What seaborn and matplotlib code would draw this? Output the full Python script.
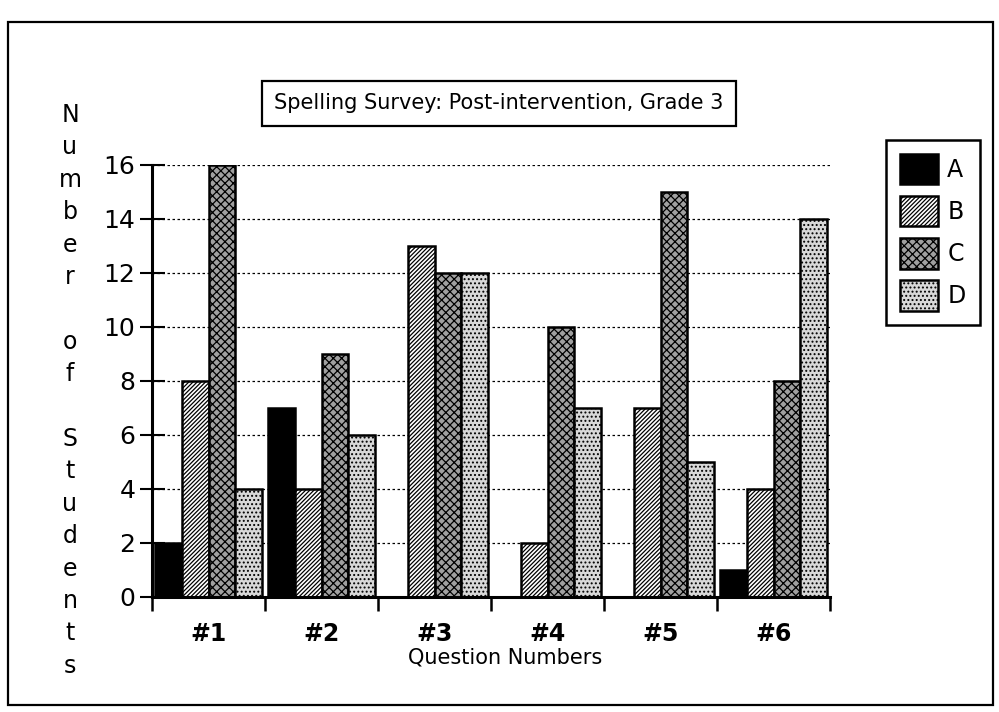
import matplotlib
matplotlib.use("Agg")
import matplotlib.pyplot as plt
from matplotlib.patches import Patch, Rectangle
import seaborn as sns
import pandas as pd

questions = ["#1", "#2", "#3", "#4", "#5", "#6"]
answers = ["A", "B", "C", "D"]
counts_a = [2, 7, 0, 0, 0, 1]
counts_b = [8, 4, 13, 2, 7, 4]
counts_c = [16, 9, 12, 10, 15, 8]
counts_d = [4, 6, 12, 7, 5, 14]
y_ticks = [0, 2, 4, 6, 8, 10, 12, 14, 16]

title = "Spelling Survey: Post-intervention, Grade 3"
y_label = "Number of Students"
x_label = "Question Numbers"

# styles per answer: face colour, hatch
face = {"A": "#000000", "B": "#ffffff", "C": "#a0a0a0", "D": "#d8d8d8"}
hatch = {"A": "", "B": "////////", "C": "xxxx", "D": "...."}

df = pd.DataFrame({
    "question": questions * 4,
    "answer": [a for a in answers for _ in questions],
    "count": counts_a + counts_b + counts_c + counts_d,
})

sns.set_style("white")
plt.rcParams["font.family"] = ["DejaVu Sans"]
plt.rcParams["hatch.linewidth"] = 0.9
plt.rcParams["text.color"] = "black"
plt.rcParams["xtick.color"] = "black"
plt.rcParams["ytick.color"] = "black"
plt.rcParams["xtick.labelcolor"] = "black"
plt.rcParams["ytick.labelcolor"] = "black"

fig = plt.figure(figsize=(9.99, 7.12), dpi=100)
W, H = 999, 712
ax = fig.add_axes([152 / W, 1 - 597 / H, (830 - 152) / W, (597 - 165) / H])

sns.barplot(data=df, x="question", y="count", hue="answer", order=questions,
            hue_order=answers, palette=face, width=0.95, gap=0,
            edgecolor="black", linewidth=1.8, ax=ax, legend=False)

for cont, a in zip(ax.containers, answers):
    for bar in cont:
        bar.set_hatch(hatch[a])
        bar.set_edgecolor("black")
        if bar.get_height() == 0:
            bar.set_visible(False)

ax.set_xlim(-0.5, len(questions) - 0.5)
ax.set_ylim(0, 16)
ax.set_yticks(y_ticks)
ax.set_yticklabels([str(t) for t in y_ticks])
ax.yaxis.grid(True, linestyle=(0, (2, 2)), color="black", linewidth=0.9)
ax.set_axisbelow(True)

# group separators as minor ticks, labels centered without ticks
ax.set_xticks([i - 0.5 for i in range(len(questions) + 1)], minor=True)
ax.tick_params(axis="x", which="minor", bottom=True, direction="out", length=10, width=1.8)
ax.tick_params(axis="x", which="major", bottom=True, length=0, pad=18, labelsize=17)
ax.tick_params(axis="y", left=True, direction="inout", length=18, width=1.5, pad=3, labelsize=18)
for lbl in ax.get_xticklabels():
    lbl.set_fontweight("bold")

for side in ["top", "right"]:
    ax.spines[side].set_visible(False)
for side in ["left", "bottom"]:
    ax.spines[side].set_color("black")
    ax.spines[side].set_linewidth(2.2)

ax.set_xlabel("")
ax.set_ylabel("")
fig.text(505 / W, 1 - 657 / H, x_label, ha="center", va="center", fontsize=15)

# vertical stacked y label
for i, ch in enumerate(y_label):
    if ch != " ":
        fig.text(70 / W, 1 - (115 + i * 32.4) / H, ch, ha="center", va="center", fontsize=17)

# title box
fig.text(499 / W, 1 - 103 / H, title, ha="center", va="center", fontsize=15,
         bbox=dict(boxstyle="square,pad=0.6", fc="white", ec="black", lw=1.6))

# legend
handles = [Patch(facecolor=face[a], edgecolor="black", hatch=hatch[a], linewidth=1.8) for a in answers]
leg = fig.legend(handles, answers, loc="upper left", bbox_to_anchor=(874 / W, 1 - 128 / H),
                 fontsize=17, frameon=True, fancybox=False, framealpha=1, handlelength=1.6,
                 handleheight=1.6, labelspacing=0.5, handletextpad=0.4, borderpad=0.6)
leg.get_frame().set_edgecolor("black")
leg.get_frame().set_linewidth(1.8)

# outer frame
fig.add_artist(Rectangle((8 / W, 1 - 705 / H), (993 - 8) / W, (705 - 22) / H,
                         transform=fig.transFigure, fill=False, ec="black", lw=1.6))

fig.savefig("out.png", dpi=100)
